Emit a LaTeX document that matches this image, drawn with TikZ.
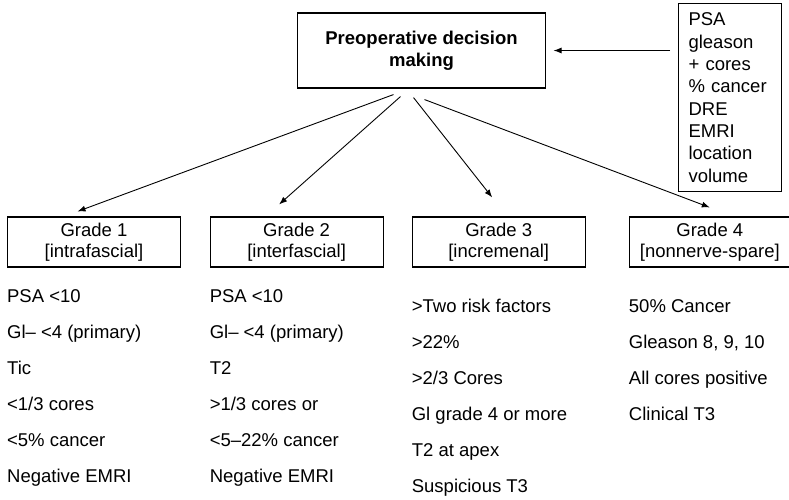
\documentclass[tikz,border=0pt]{standalone}
\usepackage{fontspec}
\setmainfont{Liberation Sans}
\usetikzlibrary{arrows.meta, positioning}

\begin{document}
\begin{tikzpicture}[
        x=1pt, y=-1pt,
        gradebox/.style={draw, line width=1.1pt, minimum width=173pt, minimum height=50pt, align=center, font=\fontsize{18.5}{21}\selectfont},
        mainbox/.style={draw, line width=1.1pt, minimum width=248pt, minimum height=75pt, align=center, font=\fontsize{18.5}{22}\selectfont\bfseries},
        factors/.style={draw, line width=1.1pt, text width=83pt, inner xsep=10pt, inner ysep=9.5pt, align=left, anchor=north west, font=\fontsize{18.5}{22.3}\selectfont},
        crit/.style={inner sep=0pt, align=left, anchor=north west, font=\fontsize{18.5}{36}\selectfont},
        arrow/.style={-{Latex[length=8pt, width=6pt]}, line width=0.9pt}
    ]
    \useasboundingbox (0,0) rectangle (789,499);

    \node[mainbox] (main) at (421.5,50.5) {Preoperative decision\\making};
    \node[factors] (factors) at (678,3) {PSA\\gleason\\+ cores\\\% cancer\\DRE\\EMRI\\location\\volume};

    \node[gradebox] (g1) at (94,242) {Grade 1\\{[intrafascial]}};
    \node[gradebox, right=28.5pt of g1] (g2) {Grade 2\\{[interfascial]}};
    \node[gradebox, right=28pt of g2] (g3) {Grade 3\\{[incremenal]}};
    \node[gradebox, right=43pt of g3, minimum width=161pt] (g4) {Grade 4\\{[nonnerve-spare]}};

    % criteria under each grade
    \node[below=21.7pt of g1.south west, crit] (c1) {PSA <10\\Gl– <4 (primary)\\Tic\\<1/3 cores\\<5\% cancer\\Negative EMRI};
    \node[below=21.7pt of g2.south west, crit] (c2) {PSA <10\\Gl– <4 (primary)\\T2\\>1/3 cores or\\<5–22\% cancer\\Negative EMRI};
    \node[below=31.6pt of g3.south west, crit] (c3) {>Two risk factors\\>22\%\\>2/3 Cores\\Gl grade 4 or more\\T2 at apex\\Suspicious T3};
    \node[below=31.6pt of g4.south west, crit] (c4) {50\% Cancer\\Gleason 8, 9, 10\\All cores positive\\Clinical T3};

    \draw[arrow, shorten <=8pt, shorten >=7.5pt] (factors.west |- main.east) -- (main.east);

    \draw[arrow] ([shift={(-28,6)}]main.south) -- ([shift={(-16.5,-5)}]g1.north);
    \draw[arrow] ([shift={(-21,8)}]main.south) -- ([shift={(-17.5,-12)}]g2.north);
    \draw[arrow] ([shift={(-8,9)}]main.south) -- ([shift={(-6.5,-19)}]g3.north);
    \draw[arrow] ([shift={(3,11)}]main.south) -- ([shift={(0,-9)}]g4.north);

\end{tikzpicture}
\end{document}
